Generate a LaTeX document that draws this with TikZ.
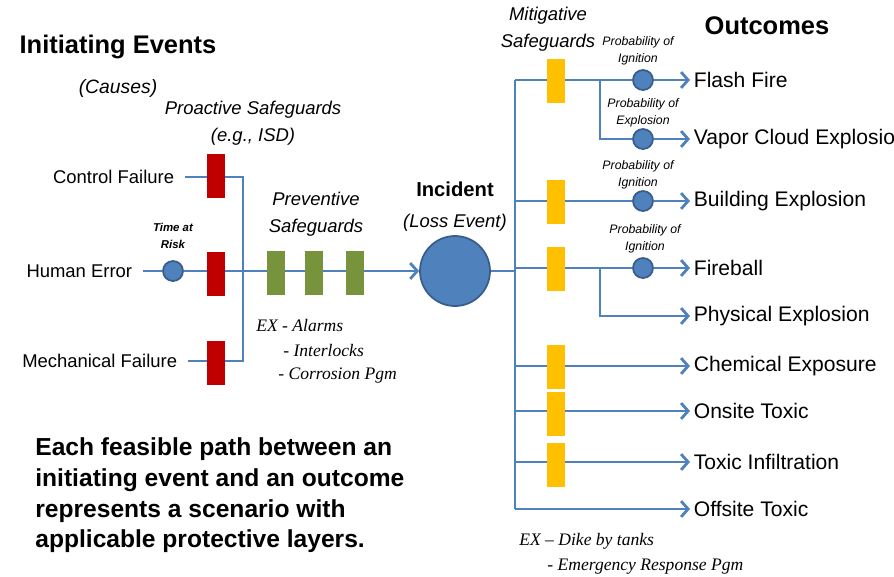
\documentclass[tikz,border=0pt]{standalone}
\usepackage{fontspec}
\setmainfont{Liberation Sans}
\newfontfamily\timesfont{Liberation Serif}
\usetikzlibrary{arrows.meta}
\definecolor{lineblue}{HTML}{4F81BD}
\definecolor{circblue}{HTML}{385D8A}
\definecolor{sgred}{HTML}{C00000}
\definecolor{sggreen}{HTML}{77933C}
\definecolor{sgyellow}{HTML}{FFC000}
\begin{document}
\begin{tikzpicture}[x=0.02cm, y=-0.02cm,
  flow/.style={lineblue, line width=1.6pt},
  tip/.style={-{Straight Barb[length=4pt,width=9pt]}},
  block/.style={minimum width=0.36cm, minimum height=0.88cm, inner sep=0pt},
  redblock/.style={block, fill=sgred},
  greenblock/.style={block, fill=sggreen},
  yellowblock/.style={block, fill=sgyellow},
  prob/.style={circle, fill=lineblue, draw=circblue, line width=1pt, minimum size=0.4cm, inner sep=0pt},
  cause/.style={anchor=east, inner xsep=6pt, font=\fontsize{10.5}{12}\selectfont},
  outcome/.style={anchor=west, inner xsep=2pt, font=\fontsize{12}{14}\selectfont},
  heading/.style={font=\fontsize{14.5}{17}\selectfont\bfseries},
  guard/.style={font=\fontsize{10.5}{15.5}\selectfont\itshape, align=center},
  small/.style={font=\fontsize{7}{10}\selectfont\itshape, align=center, inner sep=0pt},
  example/.style={anchor=west, inner sep=0pt, font=\timesfont\fontsize{10}{12}\selectfont\itshape}]
  \useasboundingbox (0,0) rectangle (894,576);

  % headings
  \node[heading] (ie) at (118,47) {Initiating Events};
  \node[font=\fontsize{11}{13}\selectfont\itshape] (causes) at (118,88) {(Causes)};
  \node[guard] (proact) at (253,123) {Proactive Safeguards\\(e.g., ISD)};
  \node[guard] (prevent) at (316,214) {Preventive\\Safeguards};
  \node[font=\fontsize{11.5}{13}\selectfont\bfseries] (inclabel) at (455,189) {Incident};
  \node[font=\fontsize{10.5}{13}\selectfont\itshape] (loss) at (455,223) {(Loss Event)};
  \node[guard] (mitig) at (548,29) {Mitigative\\Safeguards};
  \node[heading] (outc) at (767,26) {Outcomes};

  % causes
  \node[cause] (cf) at (185,177) {Control Failure};
  \node[cause] (he) at (143,271) {Human Error};
  \node[cause] (mf) at (188,361) {Mechanical Failure};
  \node[prob] (tr) at (173,271) {};
  \node[small, font=\fontsize{6.5}{9.5}\selectfont\bfseries\itshape] (trlabel) at (173,236) {Time at\\Risk};
  \coordinate (jl) at (243,271);
  \node[circle, fill=lineblue, draw=circblue, line width=1pt, minimum size=1.4cm, inner sep=0pt] (inc) at (455,271) {};

  \draw[flow] (cf.east) -| (jl);
  \draw[flow] (mf.east) -| (jl);
  \draw[flow] (he.east) -- (tr);
  \draw[flow, tip] (tr) -- (inc);

  % outcomes
  \node[outcome] (ff) at (690,80) {Flash Fire};
  \node[outcome] (vce) at (690,139) {Vapor Cloud Explosion};
  \node[outcome] (be) at (690,201) {Building Explosion};
  \node[outcome] (fb) at (690,268) {Fireball};
  \node[outcome] (pe) at (690,316) {Physical Explosion};
  \node[outcome] (ce) at (690,366) {Chemical Exposure};
  \node[outcome] (ot) at (690,411) {Onsite Toxic};
  \node[outcome] (ti) at (690,462) {Toxic Infiltration};
  \node[outcome] (oft) at (690,509) {Offsite Toxic};

  \node[prob] (pi1) at (643,80) {};
  \node[prob] (px1) at (643,139) {};
  \node[prob] (pi2) at (643,201) {};
  \node[prob] (pi3) at (643,268) {};
  \node[small] (pi1label) at (638,51) {Probability of\\Ignition};
  \node[small] (px1label) at (643,113) {Probability of\\Explosion};
  \node[small] (pi2label) at (638,175) {Probability of\\Ignition};
  \node[small] (pi3label) at (645,239) {Probability of\\Ignition};

  \coordinate (b1) at (515,80);
  \coordinate (b2) at (515,201);
  \coordinate (b3) at (515,268);
  \coordinate (b4) at (515,366);
  \coordinate (b5) at (515,411);
  \coordinate (b6) at (515,462);
  \coordinate (b7) at (515,509);
  \coordinate (s1) at (600,80);
  \coordinate (s3) at (600,268);

  \draw[flow] (inc.east) -- (inc.east -| b1);
  \draw[flow] (b1) -- (b7);
  \draw[flow] (b1) -- (pi1);
  \draw[flow, tip] (pi1) -- (ff);
  \draw[flow] (s1) |- (px1);
  \draw[flow, tip] (px1) -- (vce);
  \draw[flow] (b2) -- (pi2);
  \draw[flow, tip] (pi2) -- (be);
  \draw[flow] (b3) -- (pi3);
  \draw[flow, tip] (pi3) -- (fb);
  \draw[flow, tip] (s3) |- (pe);
  \draw[flow, tip] (b4) -- (ce);
  \draw[flow, tip] (b5) -- (ot);
  \draw[flow, tip] (b6) -- (ti);
  \draw[flow, tip] (b7) -- (oft);

  % safeguard blocks
  \node[redblock] (rb1) at (216,176) {};
  \node[redblock] (rb2) at (216,274) {};
  \node[redblock] (rb3) at (216,363) {};
  \node[greenblock] (gb1) at (276,273) {};
  \node[greenblock] (gb2) at (314,273) {};
  \node[greenblock] (gb3) at (355,273) {};
  \node[yellowblock] (yb1) at (556,81) {};
  \node[yellowblock] (yb2) at (556,202) {};
  \node[yellowblock] (yb3) at (556,269) {};
  \node[yellowblock] (yb4) at (556,367) {};
  \node[yellowblock] (yb5) at (556,414) {};
  \node[yellowblock] (yb6) at (556,465) {};

  % examples
  \node[example] (ex1) at (256,325) {EX - Alarms};
  \node[example] (ex2) at (283,350) {- Interlocks};
  \node[example] (ex3) at (278,376) {- Corrosion Pgm};
  \node[example] (ex4) at (519,541) {EX – Dike by tanks};
  \node[example] (ex5) at (547,567) {- Emergency Response Pgm};

  \node[anchor=north west, inner sep=0pt, align=left, font=\fontsize{14}{17.6}\selectfont\bfseries] (note) at (35,437)
    {Each feasible path between an\\initiating event and an outcome\\represents a scenario with\\applicable protective layers.};
\end{tikzpicture}
\end{document}
